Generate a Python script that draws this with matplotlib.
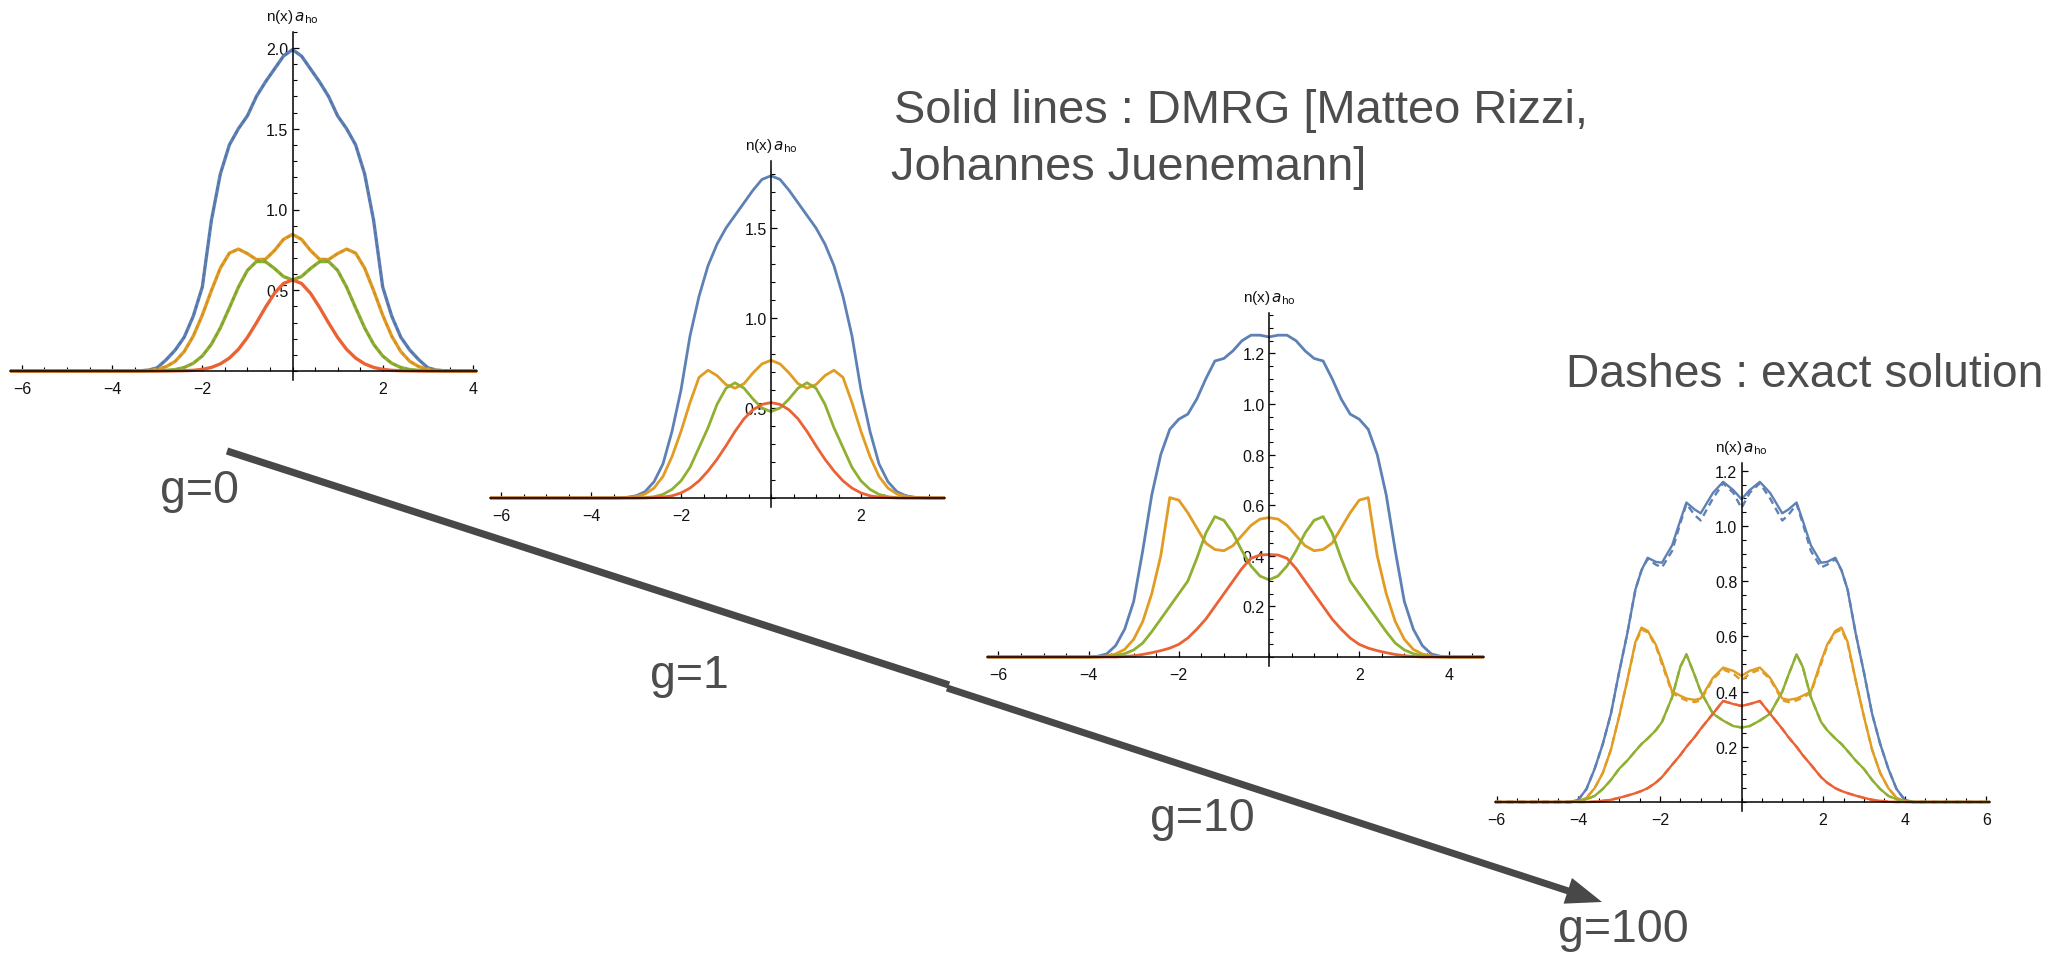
import numpy as np
import matplotlib
matplotlib.use("Agg")
import matplotlib.pyplot as plt
from matplotlib.patches import FancyArrow
from matplotlib.ticker import FixedLocator, MultipleLocator, FuncFormatter

plt.rcParams['font.family'] = ['Liberation Sans', 'DejaVu Sans']
plt.rcParams['mathtext.fontset'] = 'dejavusans'

W, H = 2059, 954

BLUE = '#5E81B5'
ORANGE = '#E19C24'
GREEN = '#8FB032'
RED = '#EB6235'
TEXT = '#4d4d4d'

# ---- g = 0 ----
x_g0 = [-6.27, -3.6, -3.4, -3.2, -3.0, -2.8, -2.6, -2.4, -2.2, -2.0, -1.8, -1.6, -1.4, -1.2, -1.0, -0.8, -0.6, -0.4, -0.2,
        0.0, 0.2, 0.4, 0.6, 0.8, 1.0, 1.2, 1.4, 1.6, 1.8, 2.0, 2.2, 2.4, 2.6, 2.8, 3.0, 3.2, 3.4, 3.6, 4.1]
blue_g0 = [0, 0, 0.001, 0.005, 0.02, 0.07, 0.13, 0.21, 0.34, 0.52, 0.93, 1.22, 1.40, 1.50, 1.58, 1.70, 1.79, 1.87, 1.95,
           1.99, 1.95, 1.87, 1.79, 1.70, 1.58, 1.50, 1.40, 1.22, 0.93, 0.52, 0.34, 0.21, 0.13, 0.07, 0.02, 0.005, 0.001, 0, 0]
orange_g0 = [0, 0, 0.001, 0.004, 0.011, 0.027, 0.060, 0.121, 0.216, 0.346, 0.497, 0.637, 0.730, 0.755, 0.727, 0.690, 0.692, 0.746, 0.815,
             0.846, 0.815, 0.746, 0.692, 0.690, 0.727, 0.755, 0.730, 0.637, 0.497, 0.346, 0.216, 0.121, 0.060, 0.027, 0.011, 0.004, 0.001, 0, 0]
green_g0 = [0, 0, 0, 0, 0.001, 0.004, 0.009, 0.022, 0.048, 0.093, 0.165, 0.267, 0.391, 0.519, 0.623, 0.678, 0.677, 0.635, 0.585,
            0.564, 0.585, 0.635, 0.677, 0.678, 0.623, 0.519, 0.391, 0.267, 0.165, 0.093, 0.048, 0.022, 0.009, 0.004, 0.001, 0, 0, 0, 0]
red_g0 = [0, 0, 0, 0, 0, 0, 0.001, 0.002, 0.004, 0.010, 0.022, 0.044, 0.080, 0.134, 0.208, 0.298, 0.394, 0.481, 0.542,
          0.564, 0.542, 0.481, 0.394, 0.298, 0.208, 0.134, 0.080, 0.044, 0.022, 0.010, 0.004, 0.002, 0.001, 0, 0, 0, 0, 0, 0]

# ---- g = 1 ----
x_g1 = [-6.25, -3.6, -3.4, -3.2, -3.0, -2.8, -2.6, -2.4, -2.2, -2.0, -1.8, -1.6, -1.4, -1.2, -1.0, -0.8, -0.6, -0.4, -0.2,
        0.0, 0.2, 0.4, 0.6, 0.8, 1.0, 1.2, 1.4, 1.6, 1.8, 2.0, 2.2, 2.4, 2.6, 2.8, 3.0, 3.2, 3.4, 3.6, 3.87]
blue_g1 = [0, 0, 0.001, 0.004, 0.012, 0.035, 0.09, 0.19, 0.37, 0.60, 0.90, 1.12, 1.29, 1.41, 1.50, 1.57, 1.64, 1.71, 1.77,
           1.79, 1.77, 1.71, 1.64, 1.57, 1.50, 1.41, 1.29, 1.12, 0.90, 0.60, 0.37, 0.19, 0.09, 0.035, 0.012, 0.004, 0.001, 0, 0]
orange_g1 = [0, 0, 0, 0.002, 0.008, 0.022, 0.055, 0.12, 0.23, 0.37, 0.53, 0.67, 0.71, 0.68, 0.63, 0.61, 0.635, 0.695, 0.745,
             0.765, 0.745, 0.695, 0.635, 0.61, 0.63, 0.68, 0.71, 0.67, 0.53, 0.37, 0.23, 0.12, 0.055, 0.022, 0.008, 0.002, 0, 0, 0]
green_g1 = [0, 0, 0, 0, 0, 0.002, 0.007, 0.02, 0.048, 0.095, 0.17, 0.28, 0.39, 0.52, 0.61, 0.64, 0.61, 0.55, 0.50,
            0.48, 0.50, 0.55, 0.61, 0.64, 0.61, 0.52, 0.39, 0.28, 0.17, 0.095, 0.048, 0.02, 0.007, 0.002, 0, 0, 0, 0, 0]
red_g1 = [0, 0, 0, 0, 0, 0, 0.002, 0.005, 0.012, 0.028, 0.055, 0.095, 0.15, 0.215, 0.29, 0.37, 0.44, 0.49, 0.52,
          0.53, 0.52, 0.49, 0.44, 0.37, 0.29, 0.215, 0.15, 0.095, 0.055, 0.028, 0.012, 0.005, 0.002, 0, 0, 0, 0, 0, 0]

# ---- g = 10 ----
x_g10 = [-6.25, -4.0, -3.8, -3.6, -3.4, -3.2, -3.0, -2.8, -2.6, -2.4, -2.2, -2.0, -1.8, -1.6, -1.4, -1.2, -1.0, -0.8, -0.6, -0.4, -0.2,
         0.0, 0.2, 0.4, 0.6, 0.8, 1.0, 1.2, 1.4, 1.6, 1.8, 2.0, 2.2, 2.4, 2.6, 2.8, 3.0, 3.2, 3.4, 3.6, 3.8, 4.0, 4.77]
blue_g10 = [0, 0, 0.003, 0.012, 0.045, 0.11, 0.22, 0.42, 0.64, 0.80, 0.90, 0.94, 0.96, 1.02, 1.10, 1.17, 1.18, 1.21, 1.25, 1.272, 1.272,
            1.265, 1.272, 1.272, 1.25, 1.21, 1.18, 1.17, 1.10, 1.02, 0.96, 0.94, 0.90, 0.80, 0.64, 0.42, 0.22, 0.11, 0.045, 0.012, 0.003, 0, 0]
orange_g10 = [0, 0, 0.001, 0.004, 0.012, 0.03, 0.07, 0.14, 0.25, 0.40, 0.63, 0.62, 0.57, 0.51, 0.45, 0.425, 0.42, 0.44, 0.48, 0.52, 0.545,
              0.551, 0.545, 0.52, 0.48, 0.44, 0.42, 0.425, 0.45, 0.51, 0.57, 0.62, 0.63, 0.40, 0.25, 0.14, 0.07, 0.03, 0.012, 0.004, 0.001, 0, 0]
green_g10 = [0, 0, 0, 0.002, 0.005, 0.013, 0.028, 0.055, 0.10, 0.15, 0.20, 0.25, 0.30, 0.39, 0.49, 0.555, 0.54, 0.49, 0.42, 0.36, 0.32,
             0.305, 0.32, 0.36, 0.42, 0.49, 0.54, 0.555, 0.49, 0.39, 0.30, 0.25, 0.20, 0.15, 0.10, 0.055, 0.028, 0.013, 0.005, 0.002, 0, 0, 0]
red_g10 = [0, 0, 0, 0, 0, 0.002, 0.005, 0.01, 0.017, 0.025, 0.035, 0.05, 0.075, 0.11, 0.15, 0.20, 0.25, 0.30, 0.35, 0.39, 0.403,
           0.405, 0.403, 0.39, 0.35, 0.30, 0.25, 0.20, 0.15, 0.11, 0.075, 0.05, 0.035, 0.025, 0.017, 0.01, 0.005, 0.002, 0, 0, 0, 0, 0]

# ---- g = 100 (DMRG solid, exact dashed) ----
x_g100 = [-6.05, -4.2, -4.0, -3.8, -3.6, -3.4, -3.2, -3.0, -2.8, -2.6, -2.45, -2.3, -2.1, -1.95, -1.7, -1.5, -1.35, -1.15, -1.0, -0.7, -0.45, -0.2,
          0.0, 0.2, 0.45, 0.7, 1.0, 1.15, 1.35, 1.5, 1.7, 1.95, 2.1, 2.3, 2.45, 2.6, 2.8, 3.0, 3.2, 3.4, 3.6, 3.8, 4.0, 4.2, 6.1]
blue_g100 = [0, 0, 0.008, 0.047, 0.12, 0.21, 0.32, 0.47, 0.61, 0.77, 0.84, 0.885, 0.87, 0.867, 0.93, 1.02, 1.085, 1.06, 1.046, 1.12, 1.16, 1.13,
             1.097, 1.13, 1.16, 1.12, 1.046, 1.06, 1.085, 1.02, 0.93, 0.867, 0.87, 0.885, 0.84, 0.77, 0.61, 0.47, 0.32, 0.21, 0.12, 0.047, 0.008, 0, 0]
blue_g100_exact = [0, 0, 0.008, 0.047, 0.12, 0.21, 0.32, 0.47, 0.61, 0.77, 0.84, 0.88, 0.86, 0.85, 0.91, 1.01, 1.08, 1.04, 1.02, 1.10, 1.155, 1.12,
                   1.065, 1.12, 1.155, 1.10, 1.02, 1.04, 1.08, 1.01, 0.91, 0.85, 0.86, 0.88, 0.84, 0.77, 0.61, 0.47, 0.32, 0.21, 0.12, 0.047, 0.008, 0, 0]
orange_g100 = [0, 0, 0.002, 0.015, 0.05, 0.105, 0.19, 0.31, 0.44, 0.58, 0.632, 0.62, 0.57, 0.51, 0.40, 0.385, 0.375, 0.37, 0.375, 0.45, 0.487, 0.475,
               0.457, 0.475, 0.487, 0.45, 0.375, 0.37, 0.375, 0.385, 0.40, 0.51, 0.57, 0.62, 0.632, 0.58, 0.44, 0.31, 0.19, 0.105, 0.05, 0.015, 0.002, 0, 0]
orange_g100_exact = [0, 0, 0.002, 0.015, 0.05, 0.105, 0.19, 0.31, 0.44, 0.575, 0.625, 0.615, 0.565, 0.50, 0.395, 0.378, 0.368, 0.362, 0.368, 0.445, 0.48, 0.465,
                     0.44, 0.465, 0.48, 0.445, 0.368, 0.362, 0.368, 0.378, 0.395, 0.50, 0.565, 0.615, 0.625, 0.575, 0.44, 0.31, 0.19, 0.105, 0.05, 0.015, 0.002, 0, 0]
green_g100 = [0, 0, 0.002, 0.01, 0.022, 0.047, 0.08, 0.12, 0.15, 0.185, 0.21, 0.23, 0.26, 0.29, 0.38, 0.49, 0.535, 0.46, 0.40, 0.32, 0.295, 0.275,
              0.27, 0.275, 0.295, 0.32, 0.40, 0.46, 0.535, 0.49, 0.38, 0.29, 0.26, 0.23, 0.21, 0.185, 0.15, 0.12, 0.08, 0.047, 0.022, 0.01, 0.002, 0, 0]
red_g100 = [0, 0, 0, 0, 0.001, 0.004, 0.008, 0.015, 0.023, 0.032, 0.04, 0.05, 0.07, 0.09, 0.135, 0.17, 0.20, 0.235, 0.265, 0.32, 0.366, 0.355,
            0.348, 0.355, 0.366, 0.32, 0.265, 0.235, 0.20, 0.17, 0.135, 0.09, 0.07, 0.05, 0.04, 0.032, 0.023, 0.015, 0.008, 0.004, 0.001, 0, 0, 0, 0]

g_labels = ['g=0', 'g=1', 'g=10', 'g=100']

fig = plt.figure(figsize=(W / 100, H / 100), dpi=100)

# full-figure layer in pixel units for the arrow and the captions
bg = fig.add_axes([0, 0, 1, 1])
bg.set_xlim(0, W)
bg.set_ylim(H, 0)
bg.axis('off')


def panel(x0, y0, sx, sy, xlim, ytop, xticks, yticks, yminor):
    # place an axes so that data (0,0) sits at pixel (x0, y0)
    ybot = -9.0 / sy
    left = x0 + xlim[0] * sx
    right = x0 + xlim[1] * sx
    top = y0 - ytop * sy
    bottom = y0 - ybot * sy
    ax = fig.add_axes([left / W, 1 - bottom / H, (right - left) / W, (bottom - top) / H])
    ax.set_xlim(*xlim)
    ax.set_ylim(ybot, ytop)
    ax.patch.set_visible(False)
    ax.spines['top'].set_visible(False)
    ax.spines['right'].set_visible(False)
    ax.spines['bottom'].set_position(('data', 0))
    ax.spines['left'].set_position(('data', 0))
    for s in ('bottom', 'left'):
        ax.spines[s].set_linewidth(1.1)
    ax.xaxis.set_major_locator(FixedLocator(xticks))
    ax.xaxis.set_minor_locator(MultipleLocator(0.5))
    ax.yaxis.set_major_locator(FixedLocator(yticks))
    ax.yaxis.set_minor_locator(MultipleLocator(yminor))
    ax.xaxis.set_major_formatter(FuncFormatter(lambda v, p: f'{int(round(v))}'.replace('-', '\u2212')))
    ax.yaxis.set_major_formatter(FuncFormatter(lambda v, p: f'{v:.1f}'))
    ax.tick_params(which='major', direction='in', length=4.5, width=0.9, labelsize=11.5, labelcolor='#111111')
    ax.tick_params(which='minor', direction='in', length=2.8, width=0.8)
    ax.tick_params(axis='x', which='major', pad=7)
    ax.tick_params(axis='y', which='major', pad=3)
    bg.text(x0, y0 - ytop * sy - 16, r'n(x)$\,a_{\mathrm{ho}}$', ha='center', va='center',
            fontsize=11, color='#111111')
    return ax


def curves(ax, x, series, lw=2.0):
    for y, c in series:
        ax.plot(x, y, color=c, lw=lw, solid_joinstyle='round', zorder=2)


ax1 = panel(292.5, 372, 45.1, 161.5, (-6.27, 4.1), 2.1, [-6, -4, -2, 2, 4], [0.5, 1.0, 1.5, 2.0], 0.1)
curves(ax1, x_g0, [(blue_g0, BLUE), (orange_g0, ORANGE), (green_g0, GREEN), (red_g0, RED)], lw=2.4)
for y, c in [(blue_g0, '#4f6f9e'), (orange_g0, '#c78a1f'), (green_g0, '#7d9a2b')]:
    ax1.plot(x_g0, y, color=c, lw=1.6, ls=(0, (1.5, 1.5)), alpha=0.6, zorder=2.1)

ax2 = panel(771, 499, 45, 180, (-6.25, 3.87), 1.87, [-6, -4, -2, 2], [0.5, 1.0, 1.5], 0.1)
curves(ax2, x_g1, [(blue_g1, BLUE), (orange_g1, ORANGE), (green_g1, GREEN), (red_g1, RED)])

ax3 = panel(1269, 658, 45.1, 253, (-6.25, 4.77), 1.36, [-6, -4, -2, 2, 4], [0.2, 0.4, 0.6, 0.8, 1.0, 1.2], 0.05)
curves(ax3, x_g10, [(blue_g10, BLUE), (orange_g10, ORANGE), (green_g10, GREEN), (red_g10, RED)])

ax4 = panel(1741.5, 803, 40.8, 276, (-6.05, 6.1), 1.23, [-6, -4, -2, 2, 4, 6], [0.2, 0.4, 0.6, 0.8, 1.0, 1.2], 0.05)
curves(ax4, x_g100, [(blue_g100, BLUE), (orange_g100, ORANGE), (green_g100, GREEN), (red_g100, RED)], lw=1.7)
for y, c in [(blue_g100_exact, BLUE), (orange_g100_exact, ORANGE), (green_g100, GREEN), (red_g100, RED)]:
    ax4.plot(x_g100, y, color=c, lw=1.7, ls=(0, (3, 2)), zorder=2.1)

# interaction strength arrow
bg.plot([227, 949], [452, 686], color='#484848', lw=5.2, solid_capstyle='butt')
bg.add_patch(FancyArrow(947, 689, 1602 - 947, 903 - 689, width=7, head_width=27, head_length=36,
                        length_includes_head=True, color='#484848', lw=0))

for (xt, yt), s in zip([(160, 503), (650, 688), (1150, 831), (1558, 942)], g_labels):
    bg.text(xt, yt, s, fontsize=33.5, color=TEXT, va='baseline', ha='left')

bg.text(894, 123, 'Solid lines : DMRG [Matteo Rizzi,', fontsize=33.8, color=TEXT, va='baseline')
bg.text(891, 180, 'Johannes Juenemann]', fontsize=33.8, color=TEXT, va='baseline')
bg.text(1566, 387, 'Dashes : exact solution', fontsize=33.2, color=TEXT, va='baseline')

fig.savefig('out.png', dpi=100)
